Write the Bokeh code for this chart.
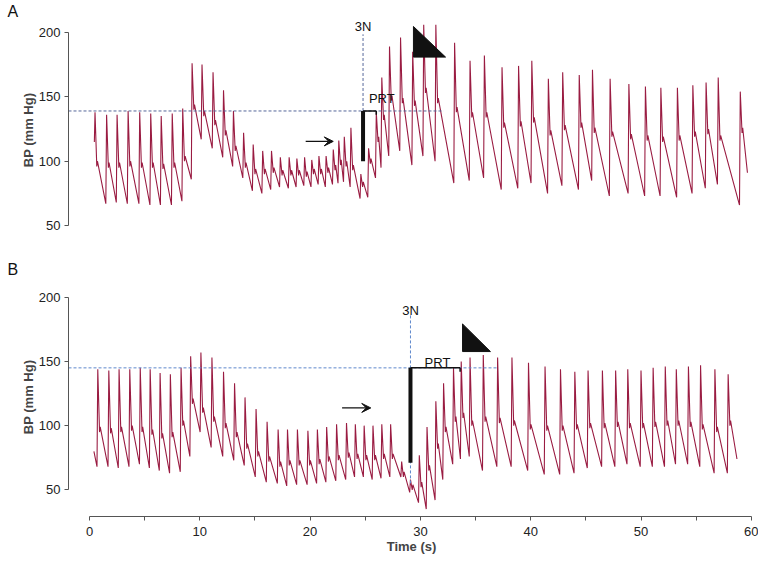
from bokeh.plotting import figure
from bokeh.layouts import column
from bokeh.models import Range1d, FixedTicker, Title, Arrow, VeeHead
from bokeh.core.properties import value
from bokeh.embed import file_html
from bokeh.resources import INLINE

# ---------------- data ----------------
# Panel A: beat peak times (s), systolic peak, dicrotic notch, diastolic trough after beat (mm Hg)
a_start_t, a_start_v = 0.44, 115
a_t = [0.5, 1.55, 2.5, 3.5, 4.55, 5.55, 6.5, 7.5, 8.45,
       9.3, 10.2, 11.2, 12.15, 13.05,
       13.97, 14.84, 15.7, 16.5, 17.3, 18.1, 18.8, 19.5, 20.15, 20.8, 21.45, 22.1, 22.6, 23.1, 23.7,
       24.6,
       25.3, 26.0, 26.5, 27.2, 28.2, 29.3, 30.3, 31.4, 33.1, 34.5, 35.8, 37.4, 38.9, 40.1, 41.6,
       42.9, 44.4, 45.6, 47.2, 48.9, 50.4, 51.8, 53.3, 54.7, 55.9, 57.0, 59.0]
a_sys = [138, 136, 136, 139, 138, 137, 135, 137, 141,
         176, 175, 169, 155, 139,
         122, 113, 108, 108, 103, 103, 102, 103, 101, 104, 104, 109, 116, 119, 126,
         90,
         110, 138, 165, 189, 196, 185, 206, 206, 192, 178, 182, 173, 174, 178, 164,
         169, 167, 171, 164, 160, 158, 157, 157, 159, 161, 165, 154]
a_notch = [96, 95, 95, 96, 95, 95, 94, 95, 100,
           140, 135, 128, 120, 108,
           95, 90, 90, 91, 89, 89, 89, 88, 90, 90, 91, 93, 97, 96, 93,
           80,
           98, 115, 132, 147, 145, 143, 153, 145, 138, 134, 134, 126, 127, 130, 120,
           124, 126, 122, 119, 117, 116, 115, 116, 119, 121, 116, 122]
a_dia = [67, 68, 67, 67, 66, 66, 66, 69, 86,
         117, 110, 103, 96, 87,
         77, 75, 78, 80, 79, 80, 81, 80, 82, 80, 82, 83, 84, 80, 71,
         72,
         87, 95, 104, 108, 97, 104, 100, 83, 85, 87, 78, 79, 83, 75, 81,
         78, 85, 73, 75, 73, 73, 72, 75, 79, 82, 66, 91]
a_end_t = 59.65

# Panel B
b_start_t, b_start_v, b_first_dia = 0.4, 80, 68
b_t = [0.75, 1.75, 2.68, 3.65, 4.6, 5.5, 6.4, 7.33, 8.3,
       9.17, 10.1, 11.1, 12.15, 13.15, 14.1, 15.1, 16.1, 17.1,
       17.95, 18.85, 19.8, 20.66, 21.5, 22.4, 23.3, 24.1, 24.9, 25.7, 26.5, 27.3,
       28.3, 29.1, 29.9, 30.6, 31.4, 32.1, 33.0, 33.7, 34.5, 35.7,
       37.0, 38.3, 39.8, 41.3, 42.7, 44.0, 45.2, 46.5, 47.7, 48.8,
       50.0, 51.1, 52.2, 53.2, 54.3, 55.4, 56.7, 57.9]
b_sys = [144, 143, 144, 144, 145, 144, 141, 140, 145,
         154, 157, 153, 142, 133, 122, 113, 103, 97,
         97, 97, 96, 97, 99, 101, 102, 101, 100, 100, 101, 101,
         72, 58, 77, 99, 119, 133, 145, 150, 153, 155,
         153, 153, 149, 146, 144, 142, 143, 143, 143, 144,
         143, 145, 146, 144, 146, 147, 144, 140]
b_notch = [95, 94, 95, 96, 95, 93, 90, 91, 100,
           117, 110, 103, 98, 91, 82, 76, 72, 68,
           69, 69, 69, 70, 72, 73, 75, 74, 73, 73, 74, 74,
           60, 50, 52, 65, 82, 95, 103, 106, 100, 103,
           102, 100, 97, 96, 96, 97, 98, 98, 99, 98,
           98, 99, 100, 100, 99, 97, 95, 100]
b_dia = [68, 67, 68, 70, 67, 65, 63, 64, 76,
         95, 83, 76, 73, 69, 60, 56, 55, 53,
         54, 54, 55, 56, 57, 58, 60, 60, 58, 59, 60, 60,
         48, 40, 35, 42, 58, 70, 74, 76, 65, 68,
         68, 65, 62, 62, 63, 67, 68, 68, 70, 68,
         68, 68, 70, 70, 68, 63, 63, 74]
b_end_t = 58.7

# annotation values
a_ref_bp, b_ref_bp = 139, 145          # dashed reference pressure
a_stim_t, b_stim_t = 24.8, 29.1        # 3N stimulus time
a_bar_low, b_bar_low = 100, 71         # bottom of thick bar
a_prt_end, b_prt_end = 26.0, 33.6      # end of PRT bracket
a_dash_end, b_dash_end = 32.1, 37.0
a_tri = ([29.37, 29.37, 32.28], [204.6, 180.8, 180.8])
b_tri = ([33.82, 33.82, 36.35], [179.2, 157.7, 157.7])
a_arrow = (19.6, 22.1, 115.4)
b_arrow = (22.9, 25.5, 113.8)

x_ticks = [0, 10, 20, 30, 40, 50, 60]
x_minor = [5, 15, 25, 35, 45, 55]
y_ticks = [50, 100, 150, 200]

TRACE = "#9a1c42"
FONT = "Liberation Sans"
X0 = -1.904


def waveform(start_t, start_v, first_dia, t, sys, notch, dia, end_t):
    xs, ys = [start_t], [start_v]
    prev = first_dia
    for i in range(len(t)):
        up = t[i] - 0.07
        if up > xs[-1]:
            xs.append(up)
            ys.append(prev)
        xs += [t[i], t[i] + 0.16, t[i] + 0.22]
        ys += [sys[i], notch[i], notch[i] + 4]
        prev = dia[i]
    xs.append(end_t)
    ys.append(prev)
    return xs, ys


def style_y(p):
    ax = p.yaxis[0]
    ax.bounds = (50, 200)
    ax.ticker = FixedTicker(ticks=y_ticks, minor_ticks=[])
    ax.axis_label = "BP (mm Hg)"
    ax.axis_label_text_font = FONT
    ax.axis_label_text_font_style = "bold"
    ax.axis_label_text_font_size = "13px"
    ax.axis_label_standoff = 0
    ax.major_label_text_font = FONT
    ax.major_label_text_font_size = "13px"
    ax.major_label_text_color = "#222222"
    ax.major_label_standoff = 4
    ax.major_tick_in = 0
    ax.major_tick_out = 4
    ax.minor_tick_out = 0
    ax.axis_line_color = "#555555"
    ax.major_tick_line_color = "#555555"


def panel(letter, height, y0, y1, border_top, border_bottom, with_x):
    p = figure(width=758, height=height, output_backend="svg", toolbar_location=None,
               x_range=Range1d(X0, 60.29), y_range=Range1d(y0, y1),
               x_axis_location="below" if with_x else None,
               min_border_left=68, min_border_right=4,
               min_border_top=border_top, min_border_bottom=border_bottom)
    p.add_layout(Title(text=letter, align="left", offset=-61, standoff=0,
                       text_font=FONT, text_font_size="16px", text_font_style="normal",
                       text_color="#111111"), "above")
    p.grid.visible = False
    p.outline_line_color = None
    p.background_fill_color = "white"
    p.border_fill_color = "white"
    style_y(p)
    if with_x:
        ax = p.xaxis[0]
        ax.bounds = (0, 60)
        ax.ticker = FixedTicker(ticks=x_ticks, minor_ticks=x_minor)
        ax.axis_label = "Time (s)"
        ax.axis_label_text_font = FONT
        ax.axis_label_text_font_style = "bold"
        ax.axis_label_text_font_size = "13px"
        ax.axis_label_standoff = 0
        ax.major_label_text_font = FONT
        ax.major_label_text_font_size = "13px"
        ax.major_label_text_color = "#222222"
        ax.major_label_standoff = 6
        ax.major_tick_in = 0
        ax.major_tick_out = 4
        ax.minor_tick_in = 0
        ax.minor_tick_out = 4
        ax.axis_line_color = "#555555"
        ax.major_tick_line_color = "#555555"
        ax.minor_tick_line_color = "#555555"
    return p


def annotate(p, ref_bp, dash_end, dash_color, stim_t, label_y, vdash_lo, vdash_hi,
             bar_low, prt_end, prt_label_x, prt_label_y, tri, arrow):
    p.line([X0, dash_end], [ref_bp, ref_bp], line_color=dash_color, line_dash="3 2", line_width=1)
    p.line([stim_t, stim_t], [vdash_lo, vdash_hi], line_color=dash_color, line_dash="3 2", line_width=1)
    p.text(x=[stim_t], y=[label_y], text=["3N"], text_font=value(FONT), text_font_size="13px",
           text_align="center", text_baseline="middle", text_color="#111111")
    p.line([stim_t, stim_t], [bar_low, ref_bp], line_color="#111111", line_width=4)
    p.line([stim_t, prt_end], [ref_bp, ref_bp], line_color="#111111", line_width=1.5)
    p.line([prt_end, prt_end], [ref_bp, ref_bp - 3], line_color="#111111", line_width=1.5)
    p.text(x=[prt_label_x], y=[prt_label_y], text=["PRT"], text_font=value(FONT), text_font_size="13px",
           text_align="center", text_baseline="middle", text_color="#111111")
    p.patch(tri[0], tri[1], fill_color="#111111", line_color="#111111")
    p.add_layout(Arrow(x_start=arrow[0], y_start=arrow[2], x_end=arrow[1], y_end=arrow[2],
                       line_width=1.2, line_color="#111111",
                       end=VeeHead(size=9, fill_color="#111111", line_color="#111111")))


# Panel A: frame 17..240 px on page (200 -> 30 px, 50 -> 225 px)
pa = panel("A", 258, 38.46, 210.0, 17, 18, False)
ax_, ay_ = waveform(a_start_t, a_start_v, a_start_v, a_t, a_sys, a_notch, a_dia, a_end_t)
pa.line(ax_, ay_, line_color=TRACE, line_width=1.1)
annotate(pa, a_ref_bp, a_dash_end, "#56679a", a_stim_t, 204.6, a_ref_bp, 198.5,
         a_bar_low, a_prt_end, 26.5, 148.5, a_tri, a_arrow)

# Panel B: figure starts at 258 px; frame 275..517 px on page (200 -> 295 px, 50 -> 490 px)
pb = panel("B", 298, 29.23, 215.38, 17, 39, True)
bx_, by_ = waveform(b_start_t, b_start_v, b_first_dia, b_t, b_sys, b_notch, b_dia, b_end_t)
pb.line(bx_, by_, line_color=TRACE, line_width=1.1)
annotate(pb, b_ref_bp, b_dash_end, "#5f88cc", b_stim_t, 190.0, 55, 186,
         b_bar_low, b_prt_end, 31.55, 149.2, b_tri, b_arrow)

layout = column(pa, pb, spacing=0)
open("out.html", "w").write(file_html(layout, INLINE))
